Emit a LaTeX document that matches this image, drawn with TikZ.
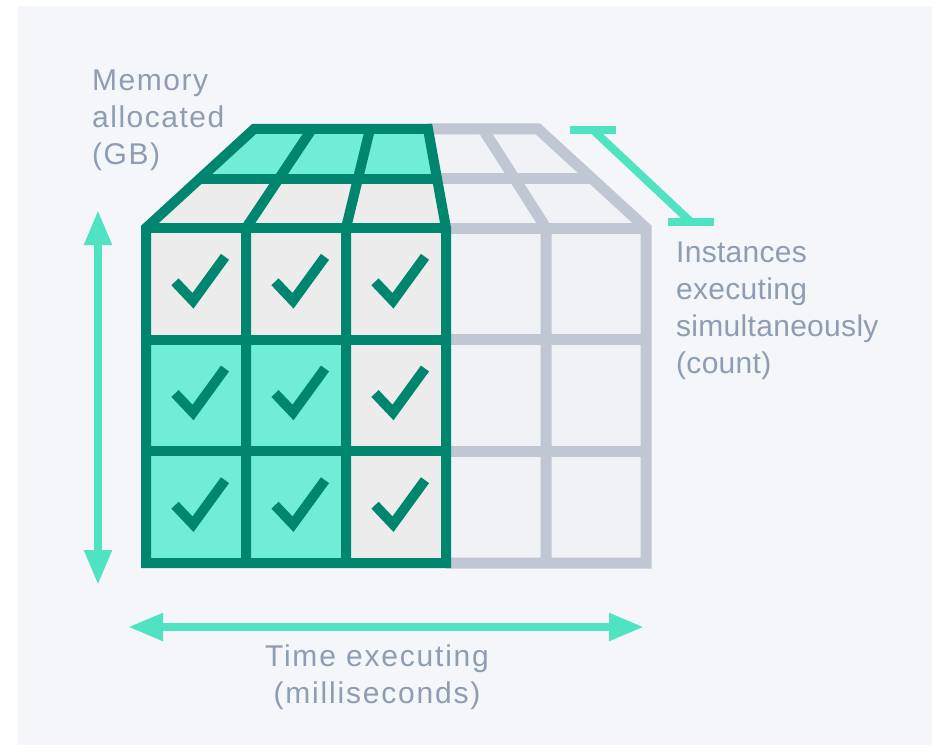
\documentclass[tikz,border=0pt]{standalone}
\usepackage{fontspec}
\setmainfont{Liberation Sans}
\usetikzlibrary{arrows.meta}

\definecolor{panelbg}{HTML}{F4F6FA}
\definecolor{cellbg}{HTML}{F0F2F6}
\definecolor{usedgray}{HTML}{ECECEC}
\definecolor{usedgreen}{HTML}{00866F}
\definecolor{usedmint}{HTML}{6FEDD7}
\definecolor{gridgray}{HTML}{C1C7D2}
\definecolor{axisgreen}{HTML}{50E3C2}
\definecolor{labelgray}{HTML}{8E9DB2}

\begin{document}
\begin{tikzpicture}
    [x=1pt, y=-1pt,
    greenline/.style={draw=usedgreen, line width=10pt, line join=miter},
    grayline/.style={draw=gridgray, line width=11pt, line join=miter},
    checkmark/.style={draw=usedgreen, line width=10pt, line join=miter},
    axisarrow/.style={draw=axisgreen, line width=8pt,
        {Triangle[length=35pt,width=26pt]}-{Triangle[length=35pt,width=26pt]}},
    instbar/.style={draw=axisgreen, line width=8pt},
    axislabel/.style={text=labelgray, inner sep=0pt,
        font=\fontsize{30}{37}\selectfont\addfontfeature{LetterSpace=#1}},
    axislabel/.default=0
    ]
    \useasboundingbox (0,0) rectangle (934,749);
    \fill[panelbg] (18,6) rectangle (932,745);

    \foreach \i/\x in {0/146,1/246,2/346,3/446,4/546,5/646}
        \foreach \j/\y in {0/228,1/339.7,2/451.3,3/563}
            \coordinate (f\i\j) at (\x,\y);
    \foreach \i/\xb/\xm in {0/254/200,1/312/279,2/370/358,3/428/437,4/483/514.5,5/538/592}
    {
        \coordinate (b\i) at (\xb,129);
        \coordinate (m\i) at (\xm,178.5);
    }

    \fill[cellbg] (b3) -- (b5) -- (f50) -- (f30) -- cycle;
    \fill[cellbg] (f30) rectangle (f53);
    \foreach \i/\k in {0/1,1/2,2/3}
    {
        \fill[usedmint] (b\i) -- (b\k) -- (m\k) -- (m\i) -- cycle;
        \fill[usedgray] (m\i) -- (m\k) -- (f\k0) -- (f\i0) -- cycle;
    }
    \fill[usedgray] (f00) rectangle (f33);
    \fill[usedmint] (f01) rectangle (f23);

    \draw[grayline] (b3) -- (b5) -- (m5) -- (f50) -- (f53) -- (f33);
    \draw[grayline] (m3) -- (m5);
    \draw[grayline] (b4) -- (m4) -- (f40) -- (f43);
    \foreach \j in {0,1,2}
        \draw[grayline] (f3\j) -- (f5\j);

    \draw[greenline] (f03) -- (f00) -- (m0) -- (b0) -- (b3) -- (m3) -- (f30) -- (f33) -- cycle;
    \draw[greenline] (m0) -- (m3);
    \draw[greenline] (f00) -- (f30);
    \foreach \i in {1,2}
        \draw[greenline] (b\i) -- (m\i) -- (f\i0) -- (f\i3);
    \foreach \j in {1,2}
        \draw[greenline] (f0\j) -- (f3\j);

    \foreach \c in {0,1,2}
        \foreach \r in {0,1,2}
            \draw[checkmark] (175+100*\c, 281.8+111.7*\r) -- ++(18,19) -- ++(32,-44);

    \coordinate (mem top) at (98,210);
    \coordinate (mem bot) at (98,585);
    \draw[axisarrow] (mem bot) -- (mem top);
    \coordinate (time left) at (128,627);
    \coordinate (time right) at (644,627);
    \draw[axisarrow] (time left) -- (time right);
    \coordinate (inst top) at (593,130);
    \coordinate (inst bot) at (691,222);
    \draw[instbar] (inst top) -- (inst bot);
    \draw[instbar] ([xshift=-23pt]inst top) -- ([xshift=23pt]inst top);
    \draw[instbar] ([xshift=-23pt]inst bot) -- ([xshift=23pt]inst bot);

    \node[axislabel=5, anchor=north west, align=left] (mem label) at (92,70) {Memory\\allocated\\(GB)};
    \node[axislabel=1, anchor=north west, align=left] (inst label) at (676,242) {Instances\\executing\\simultaneously\\(count)};
    \node[axislabel=6, anchor=north, align=center] (time label) at (377,645) {Time executing\\(milliseconds)};
\end{tikzpicture}
\end{document}
